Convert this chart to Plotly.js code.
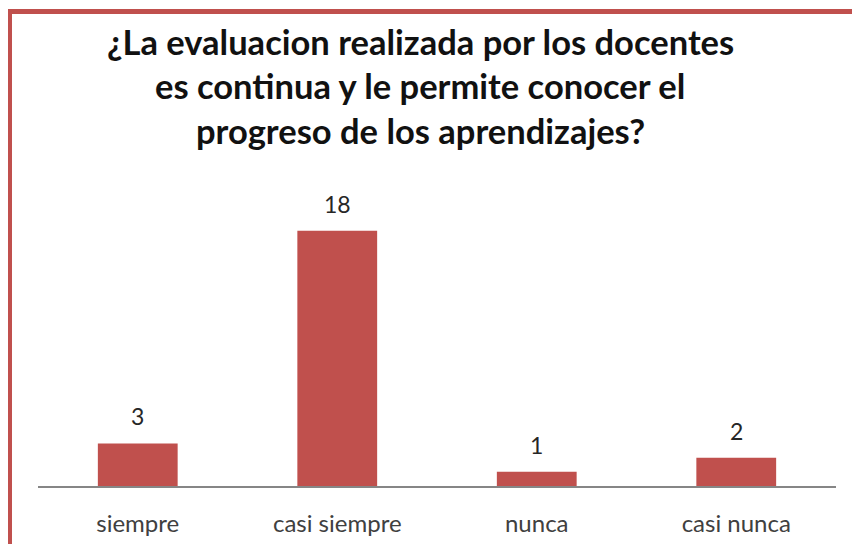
<!DOCTYPE html>
<html>
<head>
<meta charset="utf-8">
<script src="https://cdn.plot.ly/plotly-3.0.1.min.js"></script>
<style>
  html, body { margin: 0; padding: 0; background: #ffffff; }
  #wrap { position: relative; width: 852px; height: 544px; overflow: hidden; }
  #chart { position: absolute; left: 0; top: 0; width: 852px; height: 544px; }
  #frame { position: absolute; left: 8px; top: 9px; width: 900px; height: 600px;
           border-top: 5px solid #C0504D; border-left: 4px solid #C0504D; pointer-events: none; }
</style>
</head>
<body>
<div id="wrap">
  <div id="chart"></div>
  <div id="frame"></div>
</div>
<script>
const categories = ["siempre", "casi siempre", "nunca", "casi nunca"];
const values = [3, 18, 1, 2];
const titleLines = [
  "¿La evaluacion realizada por los docentes",
  "es continua y le permite conocer el",
  "progreso de los aprendizajes?"
];

const barColor = "#C0504D";
const font = "Lato, 'Open Sans', sans-serif";

const trace = {
  type: "bar",
  x: categories,
  y: values,
  marker: { color: barColor, line: { width: 0 } },
  hoverinfo: "x+y"
};

const valueAnnotations = categories.map((c, i) => ({
  x: c, y: values[i], xref: "x", yref: "y",
  text: String(values[i]), showarrow: false,
  yanchor: "middle", yshift: 27,
  font: { family: font, size: 23, color: "#262626" }
}));

// title lines, placed in paper coordinates above the plot area
const titleY = [1.362, 1.227, 1.092];
const titleAnnotations = titleLines.map((t, i) => ({
  x: 0.479, y: titleY[i], xref: "paper", yref: "paper",
  xanchor: "center", yanchor: "middle",
  text: "<b>" + t + "</b>", showarrow: false,
  font: { family: font, size: 34.5, color: "#111111" }
}));

const layout = {
  width: 852, height: 544,
  paper_bgcolor: "#ffffff", plot_bgcolor: "#ffffff",
  margin: { l: 38, r: 16, t: 160, b: 58 },
  showlegend: false,
  bargap: 0.6,
  xaxis: {
    type: "category",
    range: [-0.5, 3.5],
    showline: true, linecolor: "#868686", linewidth: 1.5,
    showgrid: false, zeroline: false,
    ticks: "outside", ticklen: 16, tickcolor: "rgba(0,0,0,0)",
    tickfont: { family: font, size: 24, color: "#404040" }
  },
  yaxis: {
    range: [0, 23],
    visible: false, showgrid: false, zeroline: false
  },
  annotations: titleAnnotations.concat(valueAnnotations)
};

Plotly.newPlot("chart", [trace], layout, { displayModeBar: false, staticPlot: true });
</script>
</body>
</html>
